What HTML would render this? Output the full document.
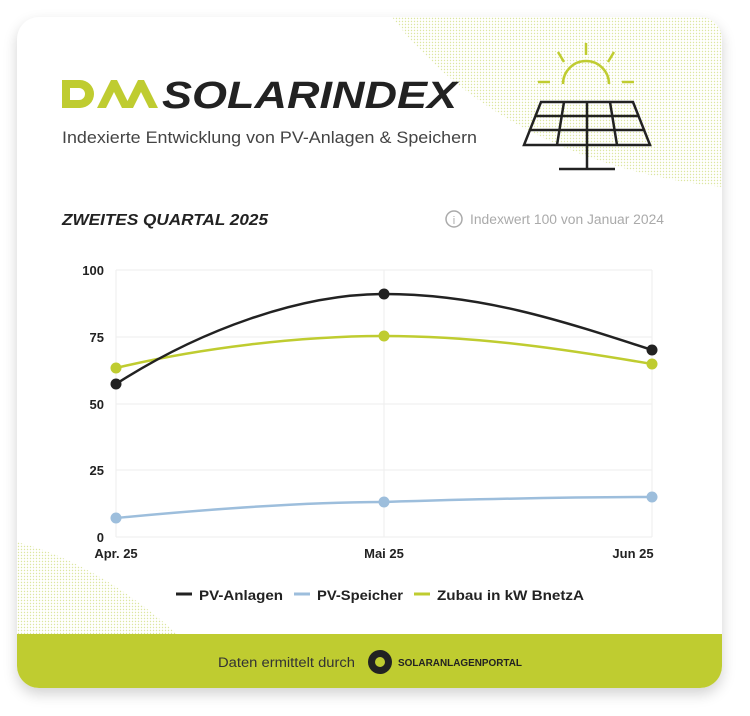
<!DOCTYPE html>
<html><head><meta charset="utf-8"><style>
body{margin:0;width:750px;height:716px;background:#fff;position:relative;overflow:hidden;font-family:"Liberation Sans",sans-serif}
.card{position:absolute;left:17px;top:17px;width:705px;height:671px;border-radius:22px;background:#fff;box-shadow:0 6px 14px rgba(0,0,0,0.18);overflow:hidden}
.foot{position:absolute;left:0;bottom:0;width:100%;height:54px;background:#bfcc30}
</style></head><body>
<div class="card">
<svg width="705" height="671" style="position:absolute;left:0;top:0">
<defs><pattern id="dots" width="3" height="3" patternUnits="userSpaceOnUse"><circle cx="1.5" cy="1.5" r="0.7" fill="#d0dd80"/></pattern></defs>
<path d="M375 0 C420 60 520 150 705 170 L705 0 Z" fill="url(#dots)" opacity="0.75"/>
<path d="M0 525 C60 540 120 580 160 617 L0 617 Z" fill="url(#dots)" opacity="0.75"/>
</svg>
<div class="foot"></div>
</div>
<svg width="750" height="716" style="position:absolute;left:0;top:0">
<g fill="#bfcc30">
<path d="M62 80 h18 a14 14 0 0 1 0 28 h-18 z M70 88 v12 h9 a6 6 0 0 0 0-12z" fill-rule="evenodd"/>
<path d="M97 108 l14 -28 h6 l14 28 h-9 l-8 -16 l-8 16z"/>
<path d="M124 108 l14 -28 h6 l14 28 h-9 l-8 -16 l-8 16z"/>
</g>
<text x="162" y="108" font-size="38" font-weight="bold" font-style="italic" fill="#222" textLength="295" lengthAdjust="spacingAndGlyphs">SOLARINDEX</text>
<text x="62" y="143" font-size="16.5" fill="#444" textLength="415" lengthAdjust="spacingAndGlyphs">Indexierte Entwicklung von PV-Anlagen &amp; Speichern</text>
<g stroke="#bfcc30" stroke-width="2.5" fill="none">
<path d="M563 84 a23 23 0 0 1 46 0"/>
<line x1="586" y1="43" x2="586" y2="55"/><line x1="558" y1="52" x2="564" y2="62"/><line x1="614" y1="52" x2="608" y2="62"/>
<line x1="538" y1="82" x2="550" y2="82"/><line x1="622" y1="82" x2="634" y2="82"/>
</g>
<g stroke="#222" stroke-width="2.5" fill="none">
<path d="M541 102 h92 l17 43 h-126 z"/>
<line x1="535" y1="116" x2="639" y2="116"/><line x1="530" y1="130" x2="645" y2="130"/>
<line x1="564" y1="102" x2="557" y2="145"/><line x1="587" y1="102" x2="587" y2="145"/><line x1="610" y1="102" x2="617" y2="145"/>
<line x1="587" y1="145" x2="587" y2="169"/><line x1="559" y1="169" x2="615" y2="169"/>
</g>
<text x="62" y="225" font-size="16" font-weight="bold" font-style="italic" fill="#222" textLength="206" lengthAdjust="spacingAndGlyphs">ZWEITES QUARTAL 2025</text>
<circle cx="454" cy="219" r="8" fill="none" stroke="#aaa" stroke-width="1.5"/>
<text x="454" y="224" font-size="11" fill="#aaa" text-anchor="middle">i</text>
<text x="470" y="224" font-size="13.5" fill="#aaa" textLength="194" lengthAdjust="spacingAndGlyphs">Indexwert 100 von Januar 2024</text>
<g stroke="#eee" stroke-width="1">
<line x1="116" y1="270" x2="652" y2="270"/><line x1="116" y1="337" x2="652" y2="337"/>
<line x1="116" y1="404" x2="652" y2="404"/><line x1="116" y1="470" x2="652" y2="470"/>
<line x1="116" y1="537" x2="652" y2="537"/>
<line x1="116" y1="270" x2="116" y2="537"/><line x1="384" y1="270" x2="384" y2="537"/><line x1="652" y1="270" x2="652" y2="537"/>
</g>
<g font-size="13" font-weight="bold" fill="#222" text-anchor="end">
<text x="104" y="275">100</text><text x="104" y="342">75</text><text x="104" y="409">50</text><text x="104" y="475">25</text><text x="104" y="542">0</text>
</g>
<g font-size="13" font-weight="bold" fill="#222" text-anchor="middle">
<text x="116" y="558">Apr. 25</text><text x="384" y="558">Mai 25</text><text x="633" y="558">Jun 25</text>
</g>
<path d="M116 518 C200 510,300 502,384 502 C480 499,570 497,652 497" fill="none" stroke="#9dbedc" stroke-width="2.5"/>
<path d="M116 368 C200 348,300 336,384 336 C480 336,570 350,652 364" fill="none" stroke="#bfcc30" stroke-width="2.5"/>
<path d="M116 384 C200 330,300 294,384 294 C480 294,560 320,652 350" fill="none" stroke="#222" stroke-width="2.5"/>
<g fill="#9dbedc"><circle cx="116" cy="518" r="5.5"/><circle cx="384" cy="502" r="5.5"/><circle cx="652" cy="497" r="5.5"/></g>
<g fill="#bfcc30"><circle cx="116" cy="368" r="5.5"/><circle cx="384" cy="336" r="5.5"/><circle cx="652" cy="364" r="5.5"/></g>
<g fill="#222"><circle cx="116" cy="384" r="5.5"/><circle cx="384" cy="294" r="5.5"/><circle cx="652" cy="350" r="5.5"/></g>
<g font-size="14" font-weight="bold" fill="#222">
<line x1="176" y1="594" x2="192" y2="594" stroke="#222" stroke-width="3"/><text x="199" y="600" textLength="84" lengthAdjust="spacingAndGlyphs">PV-Anlagen</text>
<line x1="294" y1="594" x2="310" y2="594" stroke="#9dbedc" stroke-width="3"/><text x="317" y="600" textLength="86" lengthAdjust="spacingAndGlyphs">PV-Speicher</text>
<line x1="414" y1="594" x2="430" y2="594" stroke="#bfcc30" stroke-width="3"/><text x="437" y="600" textLength="147" lengthAdjust="spacingAndGlyphs">Zubau in kW BnetzA</text>
</g>
<text x="218" y="667" font-size="13.5" fill="#333" textLength="137" lengthAdjust="spacingAndGlyphs">Daten ermittelt durch</text>
<circle cx="380" cy="662" r="12" fill="#222"/><circle cx="380" cy="662" r="5" fill="#bfcc30"/>
<text x="398" y="666" font-size="10" font-weight="bold" fill="#222" textLength="124" lengthAdjust="spacingAndGlyphs">SOLARANLAGENPORTAL</text>
</svg>
</body></html>
